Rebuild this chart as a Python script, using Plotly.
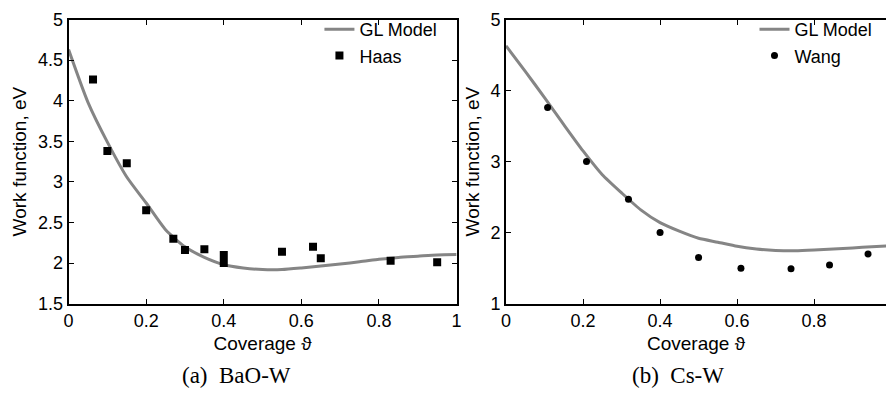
import plotly.graph_objects as go

# Coverage grid for the GL model curves
theta_model = [0.00, 0.05, 0.10, 0.15, 0.20, 0.25, 0.30, 0.35, 0.40, 0.45, 0.50,
               0.55, 0.60, 0.65, 0.70, 0.75, 0.80, 0.85, 0.90, 0.95, 1.00]

# (a) BaO-W
gl_bao = [4.63, 3.98, 3.49, 3.06, 2.74, 2.41, 2.20, 2.07, 1.98, 1.94, 1.92,
          1.92, 1.94, 1.965, 1.99, 2.015, 2.047, 2.07, 2.085, 2.10, 2.105]
haas_theta = [0.063, 0.10, 0.15, 0.20, 0.27, 0.30, 0.35, 0.40, 0.40, 0.55, 0.63, 0.65, 0.83, 0.95]
haas_phi = [4.26, 3.38, 3.23, 2.65, 2.30, 2.16, 2.17, 2.10, 2.00, 2.14, 2.20, 2.06, 2.03, 2.01]

# (b) Cs-W
gl_cs = [4.63, 4.27, 3.90, 3.52, 3.15, 2.815, 2.56, 2.32, 2.14, 2.02, 1.92,
         1.865, 1.807, 1.77, 1.75, 1.745, 1.755, 1.77, 1.785, 1.80, 1.815]
wang_theta = [0.108, 0.209, 0.318, 0.40, 0.50, 0.61, 0.74, 0.84, 0.94]
wang_phi = [3.76, 3.00, 2.47, 2.00, 1.65, 1.50, 1.49, 1.545, 1.70]

x_ticks = [0, 0.2, 0.4, 0.6, 0.8, 1]
x_ticktext = ["0", "0.2", "0.4", "0.6", "0.8", "1"]
y_ticks_a = [1.5, 2, 2.5, 3, 3.5, 4, 4.5, 5]
y_ticktext_a = ["1.5", "2", "2.5", "3", "3.5", "4", "4.5", "5"]
y_ticks_b = [1, 2, 3, 4, 5]
y_ticktext_b = ["1", "2", "3", "4", "5"]

W, H = 891, 403
SANS = "Liberation Sans, Arial, sans-serif"
SERIF = "Liberation Serif, Times New Roman, serif"
GRAY = "#858585"

fig = go.Figure()

fig.add_trace(go.Scatter(x=theta_model, y=gl_bao, mode="lines", name="GL Model",
                         line=dict(color=GRAY, width=3, shape="spline", smoothing=0.6),
                         xaxis="x", yaxis="y", legend="legend"))
fig.add_trace(go.Scatter(x=haas_theta, y=haas_phi, mode="markers", name="Haas",
                         marker=dict(symbol="square", size=8, color="black"),
                         xaxis="x", yaxis="y", legend="legend"))
fig.add_trace(go.Scatter(x=theta_model, y=gl_cs, mode="lines", name="GL Model",
                         line=dict(color=GRAY, width=3, shape="spline", smoothing=0.6),
                         xaxis="x2", yaxis="y2", legend="legend2"))
fig.add_trace(go.Scatter(x=wang_theta, y=wang_phi, mode="markers", name="Wang",
                         marker=dict(symbol="circle", size=7, color="black"),
                         xaxis="x2", yaxis="y2", legend="legend2"))

# plot-area geometry in pixels
ax_left, ax_right = 64.3, 456.7
bx_left = 506.7
ax_top, ax_bottom = 10, 309
b_scale = 389.5  # px per unit coverage in panel (b)

y_dom = [1 - ax_bottom / H, 1 - ax_top / H]

axis_common = dict(
    showline=True, linecolor="black", linewidth=2,
    ticks="inside", ticklen=5, tickwidth=1.3, tickcolor="black",
    showgrid=False, zeroline=False,
    tickfont=dict(family=SANS, size=18, color="black"),
    title_font=dict(family=SANS, size=19, color="black"),
)

legend_common = dict(
    xanchor="left", yanchor="top", bgcolor="rgba(0,0,0,0)", borderwidth=0,
    tracegroupgap=0, font=dict(family=SANS, size=18, color="black"),
)

fig.update_layout(
    width=W, height=H,
    margin=dict(l=0, r=0, t=0, b=0),
    paper_bgcolor="white", plot_bgcolor="white",
    xaxis=dict(domain=[ax_left / W, ax_right / W], range=[0, 1], anchor="y",
               tickvals=x_ticks, ticktext=x_ticktext, mirror="ticks",
               title=dict(text="Coverage ϑ", standoff=6), **axis_common),
    yaxis=dict(domain=y_dom, range=[1.5, 5], anchor="x",
               tickvals=y_ticks_a, ticktext=y_ticktext_a, mirror="ticks",
               title=dict(text="Work function, eV", standoff=6), **axis_common),
    xaxis2=dict(domain=[bx_left / W, 1.0], range=[0, (W - bx_left) / b_scale], anchor="y2",
                tickvals=x_ticks[:-1], ticktext=x_ticktext[:-1], mirror="ticks",
                title=dict(text="Coverage ϑ", standoff=6), **axis_common),
    yaxis2=dict(domain=y_dom, range=[1, 5], anchor="x2",
                tickvals=y_ticks_b, ticktext=y_ticktext_b, mirror=False,
                title=dict(text="Work function, eV", standoff=6), **axis_common),
    legend=dict(x=318 / W, y=1 - 1 / H, **legend_common),
    legend2=dict(x=758 / W, y=1 - 1 / H, **legend_common),
    showlegend=True,
    annotations=[
        dict(text="(a)\u2002BaO-W", x=234 / W, y=1 - 385 / H, xref="paper", yref="paper",
             showarrow=False, xanchor="center", yanchor="middle",
             font=dict(family=SERIF, size=23, color="black")),
        dict(text="(b)\u2002Cs-W", x=681 / W, y=1 - 385 / H, xref="paper", yref="paper",
             showarrow=False, xanchor="center", yanchor="middle",
             font=dict(family=SERIF, size=23, color="black")),
    ],
)

fig.write_html("out.html")
